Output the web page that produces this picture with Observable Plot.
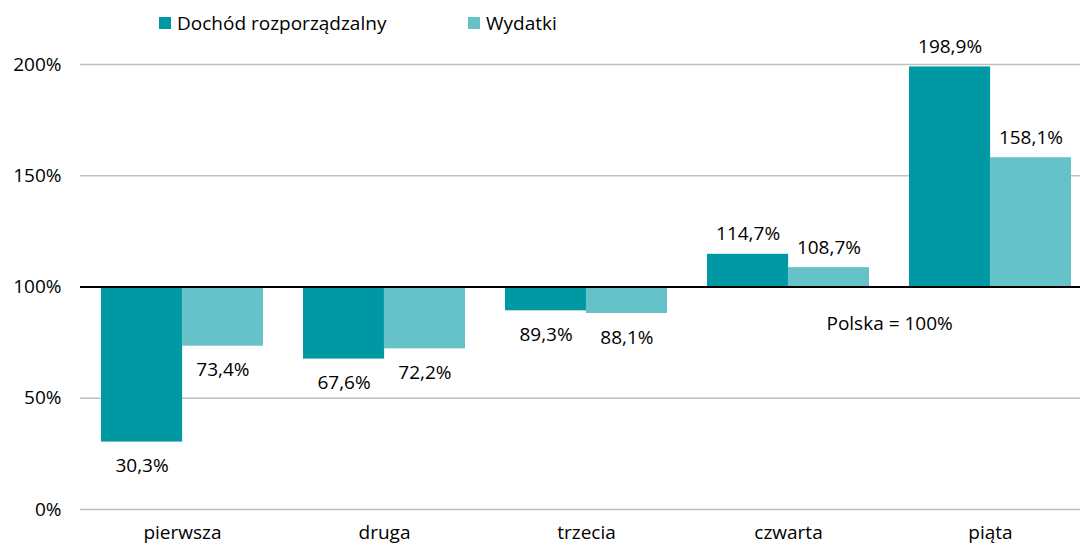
<!DOCTYPE html>
<html><head><meta charset="utf-8">
<script src="https://cdn.jsdelivr.net/npm/d3@7"></script>
<script src="https://cdn.jsdelivr.net/npm/@observablehq/plot@0.6"></script>
<style>
body{margin:0;background:#fff;font-family:"Open Sans",sans-serif;}
#legend{position:relative;height:30px;font-size:19px;color:#000;z-index:1;}
.item{position:absolute;top:8px;height:30px;display:flex;align-items:center;white-space:nowrap;}
.sw{width:12px;height:12px;margin-right:6px;}
#chart svg{display:block;}
</style></head><body>
<div id="legend"></div>
<div id="chart"></div>
<script>
const categories = ["pierwsza","druga","trzecia","czwarta","piąta"];
const seriesNames = ["Dochód rozporządzalny","Wydatki"];
const dochod = [30.3,67.6,89.3,114.7,198.9];
const wydatki = [73.4,72.2,88.1,108.7,158.1];
const yTicks = [0,50,100,150,200];
const colors = ["#0099a3","#66c2c9"];
const baseline = 100;
const noteText = "Polska = 100%";
const noteCategory = "czwarta";
const noteValue = 83.3;

// layout constants
const W = 1080, H = 516, mL = 80, mR = 0, mT = 34, mB = 37;
const xRange = [80, 1091];
const padIn = 0.2, padOut = 0.1;
const step = (xRange[1]-xRange[0])/(categories.length - padIn + 2*padOut);
const bw = step*(1-padIn);
const half = bw/2;
const FS = 19;

// legend
const leg = document.getElementById("legend");
const legX = [159, 468];
seriesNames.forEach((s,i)=>{
  const d = document.createElement("div");
  d.className="item"; d.style.left = legX[i]+"px";
  d.innerHTML = `<span class="sw" style="background:${colors[i]}"></span><span>${s}</span>`;
  leg.appendChild(d);
});

const fmt = v => d3.format(".1f")(v).replace(".", ",") + "%";
const labels = categories.flatMap((c,i)=>[
  {cat:c, v:dochod[i], off:-1},
  {cat:c, v:wydatki[i], off:1}
]);
const rows = categories.map((c,i)=>({cat:c, d:dochod[i], w:wydatki[i]}));
const above = labels.filter(r => r.v > baseline);
const below = labels.filter(r => r.v <= baseline);

function labelMarks(set, dy) {
  return [-1, 1].map(sgn => Plot.text(set.filter(r => r.off === sgn), {
    x: "cat", y: "v", text: r => fmt(r.v), dx: sgn*half/2, dy, fill: "#000", fontSize: FS
  }));
}

const plot = Plot.plot({
  width: W, height: H, marginLeft: mL, marginRight: mR, marginTop: mT, marginBottom: mB,
  style: {fontFamily: '"Open Sans", sans-serif', fontSize: FS + "px", color: "#000", background: "transparent", overflow: "visible"},
  x: {domain: categories, range: xRange, paddingInner: padIn, paddingOuter: padOut, label: null, tickSize: 0, tickPadding: 16},
  y: {domain: [0, 200], ticks: yTicks, tickFormat: d => d + "%", label: null, tickSize: 0, tickPadding: 19},
  marks: [
    Plot.ruleY(yTicks.filter(t => t !== baseline), {stroke: "#c0c0c0", strokeWidth: 1.5}),
    Plot.barY(rows, {x: "cat", y1: baseline, y2: "d", fill: colors[0], insetRight: half}),
    Plot.barY(rows, {x: "cat", y1: baseline, y2: "w", fill: colors[1], insetLeft: half}),
    Plot.ruleY([baseline], {stroke: "#000", strokeWidth: 2}),
    ...labelMarks(above, -20),
    ...labelMarks(below, 24),
    Plot.text([noteText], {x: () => noteCategory, y: () => noteValue, text: d => d, dx: step/2, fill: "#000", fontSize: FS})
  ]
});
document.getElementById("chart").appendChild(plot);
</script>
</body></html>
